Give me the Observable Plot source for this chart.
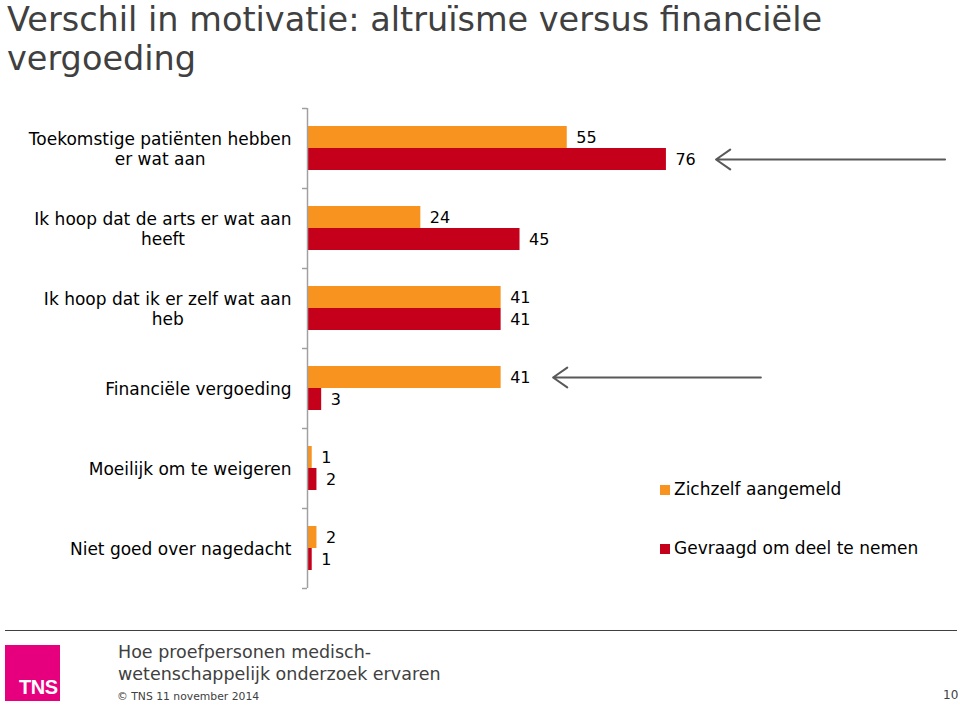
<!DOCTYPE html>
<html><head><meta charset="utf-8">
<script src="https://cdn.jsdelivr.net/npm/d3@7"></script>
<script src="https://cdn.jsdelivr.net/npm/@observablehq/plot@0.6"></script>
<style>
body{margin:0;background:#fff;}
#page{position:relative;width:960px;height:705px;overflow:hidden;font-family:"DejaVu Sans",Verdana,sans-serif;}
#title{position:absolute;left:7px;top:0px;font-size:33.5px;line-height:39.2px;color:#404040;white-space:nowrap;}
#chart{position:absolute;left:0;top:90px;}
#legend{position:absolute;left:660px;top:478px;font-size:17px;color:#000;}
.lg{position:absolute;left:0;white-space:nowrap;height:22px;line-height:22px;}
.sw{display:inline-block;width:10px;height:10px;margin-right:4px;vertical-align:0px;}
#rule{position:absolute;left:5px;top:630px;width:952px;height:0;border-top:1.5px solid #404040;}
#logo{position:absolute;left:5px;top:645px;width:55px;height:56px;background:#E6007E;}
#logo span{position:absolute;left:14px;bottom:2px;color:#fff;font-family:"Liberation Sans",Arial,sans-serif;font-weight:bold;font-size:20px;letter-spacing:-0.5px;}
#foot{position:absolute;left:118px;top:642px;font-size:17.5px;line-height:21.5px;color:#404040;white-space:nowrap;}
#copy{position:absolute;left:117px;top:690px;font-size:10.8px;color:#404040;white-space:nowrap;}
#pnum{position:absolute;left:943px;top:688px;font-size:12px;color:#404040;}
</style></head>
<body><div id="page">
<div id="title">Verschil in motivatie: altruïsme versus financiële<br>vergoeding</div>
<div id="chart"></div>
<div id="legend"></div>
<div id="rule"></div>
<div id="logo"><span>TNS</span></div>
<div id="foot">Hoe proefpersonen medisch-<br>wetenschappelijk onderzoek ervaren</div>
<div id="copy">© TNS 11 november 2014</div>
<div id="pnum">10</div>
</div>
<script>
const categories = [
  "Toekomstige patiënten hebben er wat aan",
  "Ik hoop dat de arts er wat aan heeft",
  "Ik hoop dat ik er zelf wat aan heb",
  "Financiële vergoeding",
  "Moeilijk om te weigeren",
  "Niet goed over nagedacht"
];
const categoryLabels = [
  "Toekomstige patiënten hebben\ner wat aan",
  "Ik hoop dat de arts er wat aan\nheeft",
  "Ik hoop dat ik er zelf wat aan\nheb",
  "Financiële vergoeding",
  "Moeilijk om te weigeren",
  "Niet goed over nagedacht"
];
const series = ["Zichzelf aangemeld", "Gevraagd om deel te nemen"];
const zichzelf = [55, 24, 41, 41, 1, 2];
const gevraagd = [76, 45, 41, 3, 2, 1];
const colors = ["#F7931E", "#C5001A"];
// annotation arrows (x in value units)
const arrowCategory = [categories[0], categories[3]];
const arrowSeries = [series[1], series[0]];
const arrowFrom = [135, 96];
const arrowTo = [86.5, 52];

const data = [];
categories.forEach((c, i) => {
  data.push({category: c, series: series[0], value: zichzelf[i]});
  data.push({category: c, series: series[1], value: gevraagd[i]});
});
const arrows = arrowCategory.map((c, i) => ({category: c, series: arrowSeries[i], x1: arrowFrom[i], x2: arrowTo[i]}));

// measure label widths for centered multi-line labels
const ctx = document.createElement("canvas").getContext("2d");
ctx.font = "17px 'DejaVu Sans'";
const labelMarks = categories.map((c, i) => {
  const lines = categoryLabels[i].split("\n");
  const w = Math.max(...lines.map(l => ctx.measureText(l).width));
  return Plot.text([c], {
    fy: d => d, text: () => categoryLabels[i], frameAnchor: "left",
    textAnchor: "middle", lineAnchor: "middle", dx: -(16 + w / 2),
    fontSize: 17, fill: "#000", lineHeight: 1.2
  });
});

const chart = Plot.plot({
  width: 960,
  height: 510,
  marginLeft: 307,
  marginRight: 6,
  marginTop: 18,
  marginBottom: 12,
  style: {fontFamily: "'DejaVu Sans', Verdana, sans-serif", fontSize: "16px", background: "transparent", overflow: "visible"},
  x: {domain: [0, 137], axis: null},
  fy: {domain: categories, padding: 0, axis: null},
  y: {domain: series, paddingInner: 0, paddingOuter: 0.78, axis: null},
  color: {domain: series, range: colors},
  marks: [
    Plot.barX(data, {fy: "category", y: "series", x: "value", fill: "series"}),
    Plot.text(data, {fy: "category", y: "series", x: "value", text: d => String(d.value), textAnchor: "start", dx: 9, fontSize: 16, fill: "#000"}),
    Plot.ruleX([0], {stroke: "#A0A0A0", strokeWidth: 1.5}),
    Plot.axisFy({anchor: "left", tickSize: 5, tickFormat: null, stroke: "#A0A0A0", strokeWidth: 1.5, dy: -40, label: null}),
    Plot.axisFy({anchor: "left", ticks: [categories[categories.length - 1]], tickSize: 5, tickFormat: null, stroke: "#A0A0A0", strokeWidth: 1.5, dy: 40, label: null}),
    ...labelMarks,
    Plot.arrow(arrows, {fy: "category", y1: "series", y2: "series", x1: "x1", x2: "x2", stroke: "#595959", strokeWidth: 2, headLength: 13, headAngle: 70})
  ]
});
document.getElementById("chart").appendChild(chart);

const legend = document.getElementById("legend");
series.forEach((s, i) => {
  const row = document.createElement("div");
  row.className = "lg";
  row.style.top = (i * 59) + "px";
  row.innerHTML = `<span class="sw" style="background:${colors[i]}"></span>${s}`;
  legend.appendChild(row);
});
</script>
</body></html>
